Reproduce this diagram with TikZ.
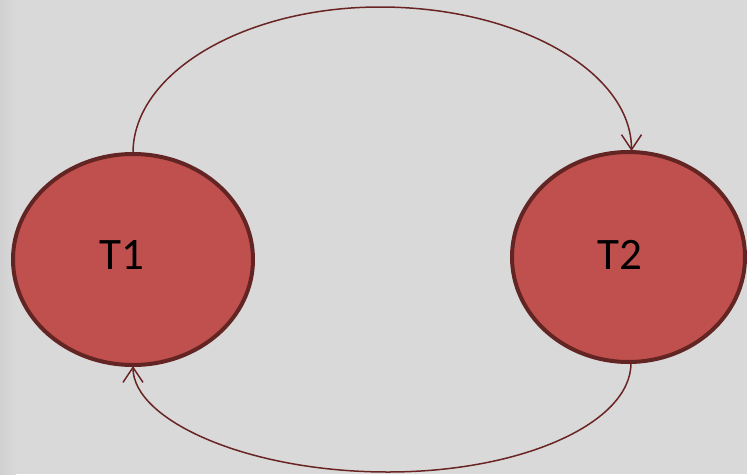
\documentclass[tikz,border=0pt]{standalone}
\usepackage{fontspec}
\setmainfont{Carlito}
\usetikzlibrary{shapes.geometric,arrows.meta}
\definecolor{bg}{HTML}{D9D9D9}
\definecolor{bgdark}{HTML}{D1D1D1}
\definecolor{statefill}{HTML}{C0504D}
\definecolor{stateborder}{HTML}{632523}
\definecolor{linkcol}{HTML}{6A2424}
\tikzset{
  statenode/.style={ellipse, draw=stateborder, fill=statefill, line width=4pt, inner sep=0pt},
  statelabel/.style={font=\fontsize{45}{54}\selectfont, text=black},
  link/.style={draw=linkcol, line width=1.5pt, -{Straight Barb[length=15pt,width=20pt,line width=1.5pt]}}
}
\begin{document}
\begin{tikzpicture}[x=1pt,y=-1pt]
\useasboundingbox (0,0) rectangle (747,474);
\fill[bg] (0,0) rectangle (747,474);
\shade[left color=bgdark, right color=bg] (0,0) rectangle (16,474);
\node[statenode, minimum width=240pt, minimum height=211pt,
      label={[statelabel, xshift=-11pt, yshift=4pt]center:T1}] (t1) at (133,259.5) {};
\node[statenode, minimum width=233pt, minimum height=210pt,
      label={[statelabel, xshift=-9pt, yshift=2pt]center:T2}] (t2) at (628.5,257) {};
\coordinate (topmid) at (380,7);
\coordinate (botmid) at (388,472);
\draw[link] ([yshift=-1pt]t1.north) .. controls +(0,-80) and +(-136,0) .. (topmid)
  .. controls +(139,0) and +(0,-79) .. ([xshift=3pt,yshift=-1pt]t2.north);
\draw[link] ([xshift=2.5pt,yshift=1pt]t2.south) .. controls +(0,60) and +(134,0) .. (botmid)
  .. controls +(-141,0) and +(0,54) .. ([yshift=1pt]t1.south);
\end{tikzpicture}
\end{document}
